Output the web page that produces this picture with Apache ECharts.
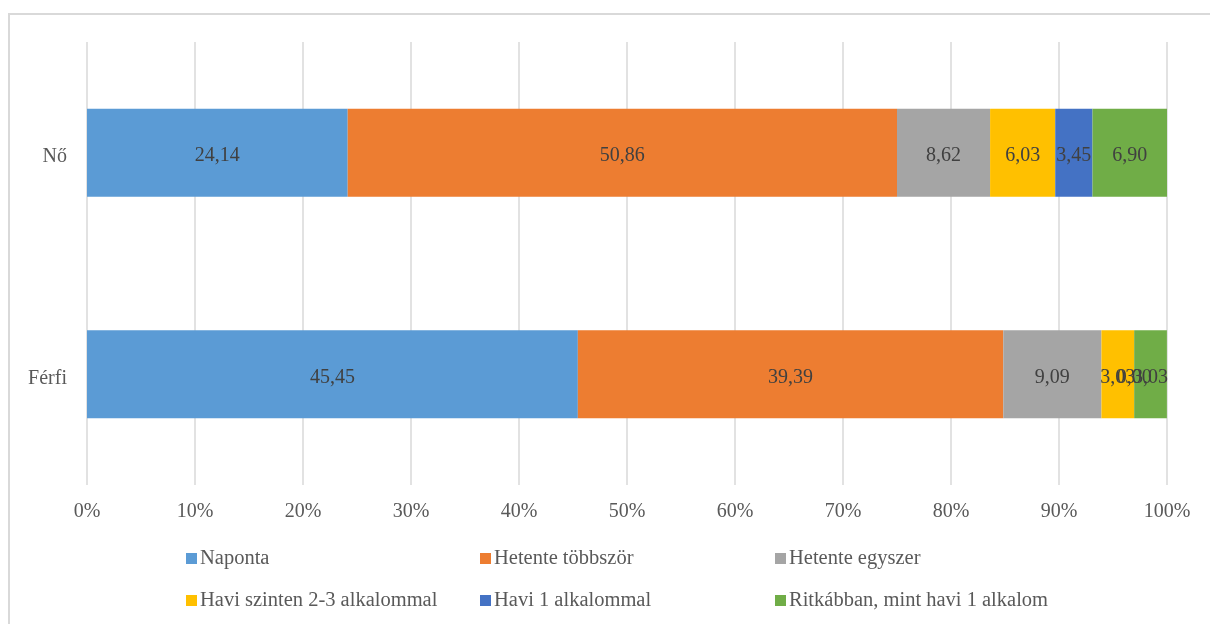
<!DOCTYPE html>
<html>
<head>
<meta charset="utf-8">
<script src="https://cdn.jsdelivr.net/npm/echarts@6/dist/echarts.min.js"></script>
<style>
  html, body { margin: 0; padding: 0; background: #fff; }
  #chart { width: 1210px; height: 624px; }
</style>
</head>
<body>
<div id="chart"></div>
<script>
// categories (top to bottom)
const categories = ["Nő", "Férfi"];

// series names and values, in percent
const seriesNames = [
  "Naponta",
  "Hetente többször",
  "Hetente egyszer",
  "Havi szinten 2-3 alkalommal",
  "Havi 1 alkalommal",
  "Ritkábban, mint havi 1 alkalom",
];
const naponta = [24.14, 45.45];
const hetenteTobbszor = [50.86, 39.39];
const hetenteEgyszer = [8.62, 9.09];
const haviKetHarom = [6.03, 3.03];
const haviEgy = [3.45, 0];
const ritkabban = [6.9, 3.03];

const seriesValues = [naponta, hetenteTobbszor, hetenteEgyszer, haviKetHarom, haviEgy, ritkabban];
const colors = ["#5B9BD5", "#ED7D31", "#A5A5A5", "#FFC000", "#4472C4", "#70AD47"];

const FONT = "'Liberation Serif', 'Times New Roman', serif";

// legend slots: three columns, two rows
const legendCols = [186, 480, 775];
const legendRows = [548, 590];

const chart = echarts.init(document.getElementById("chart"));

const option = {
  animation: false,
  color: colors,
  textStyle: { fontFamily: FONT },
  graphic: [
    {
      type: "rect",
      shape: { x: 9, y: 14, width: 1400, height: 800 },
      style: { fill: "none", stroke: "#D9D9D9", lineWidth: 2 },
      silent: true,
    },
  ],
  grid: { left: 87, right: 43, top: 42, bottom: 139, containLabel: false },
  xAxis: {
    type: "value",
    min: 0,
    max: 100,
    interval: 10,
    axisLine: { show: false },
    axisTick: { show: false },
    axisLabel: {
      formatter: (v) => v + "%",
      color: "#595959",
      fontSize: 20,
      fontFamily: FONT,
      margin: 17,
    },
    splitLine: { lineStyle: { color: "#D9D9D9", width: 1.5 } },
  },
  yAxis: {
    type: "category",
    data: categories,
    inverse: true,
    axisLine: { show: false },
    axisTick: { show: false },
    axisLabel: {
      color: "#595959",
      fontSize: 20,
      fontFamily: FONT,
      margin: 20,
      formatter: (v) => "{c|" + v + "}",
      rich: {
        c: { color: "#595959", fontSize: 20, fontFamily: FONT, padding: [8, 0, 0, 0] },
      },
    },
  },
  legend: seriesNames.map((name, i) => ({
    data: [name],
    left: legendCols[i % 3],
    top: legendRows[Math.floor(i / 3)],
    icon: "rect",
    itemWidth: 11,
    itemHeight: 11,
    itemGap: 0,
    padding: 0,
    selectedMode: false,
    textStyle: { color: "#595959", fontSize: 20.5, fontFamily: FONT, padding: [0, 0, 0, -2] },
  })),
  series: seriesNames.map((name, i) => ({
    name,
    type: "bar",
    stack: "total",
    barWidth: 88,
    data: seriesValues[i],
    label: {
      show: true,
      position: "inside",
      offset: [0, 3],
      color: "#404040",
      fontSize: 20,
      fontFamily: FONT,
      formatter: (p) => p.value.toFixed(2).replace(".", ","),
    },
  })),
};

chart.setOption(option);
</script>
</body>
</html>
